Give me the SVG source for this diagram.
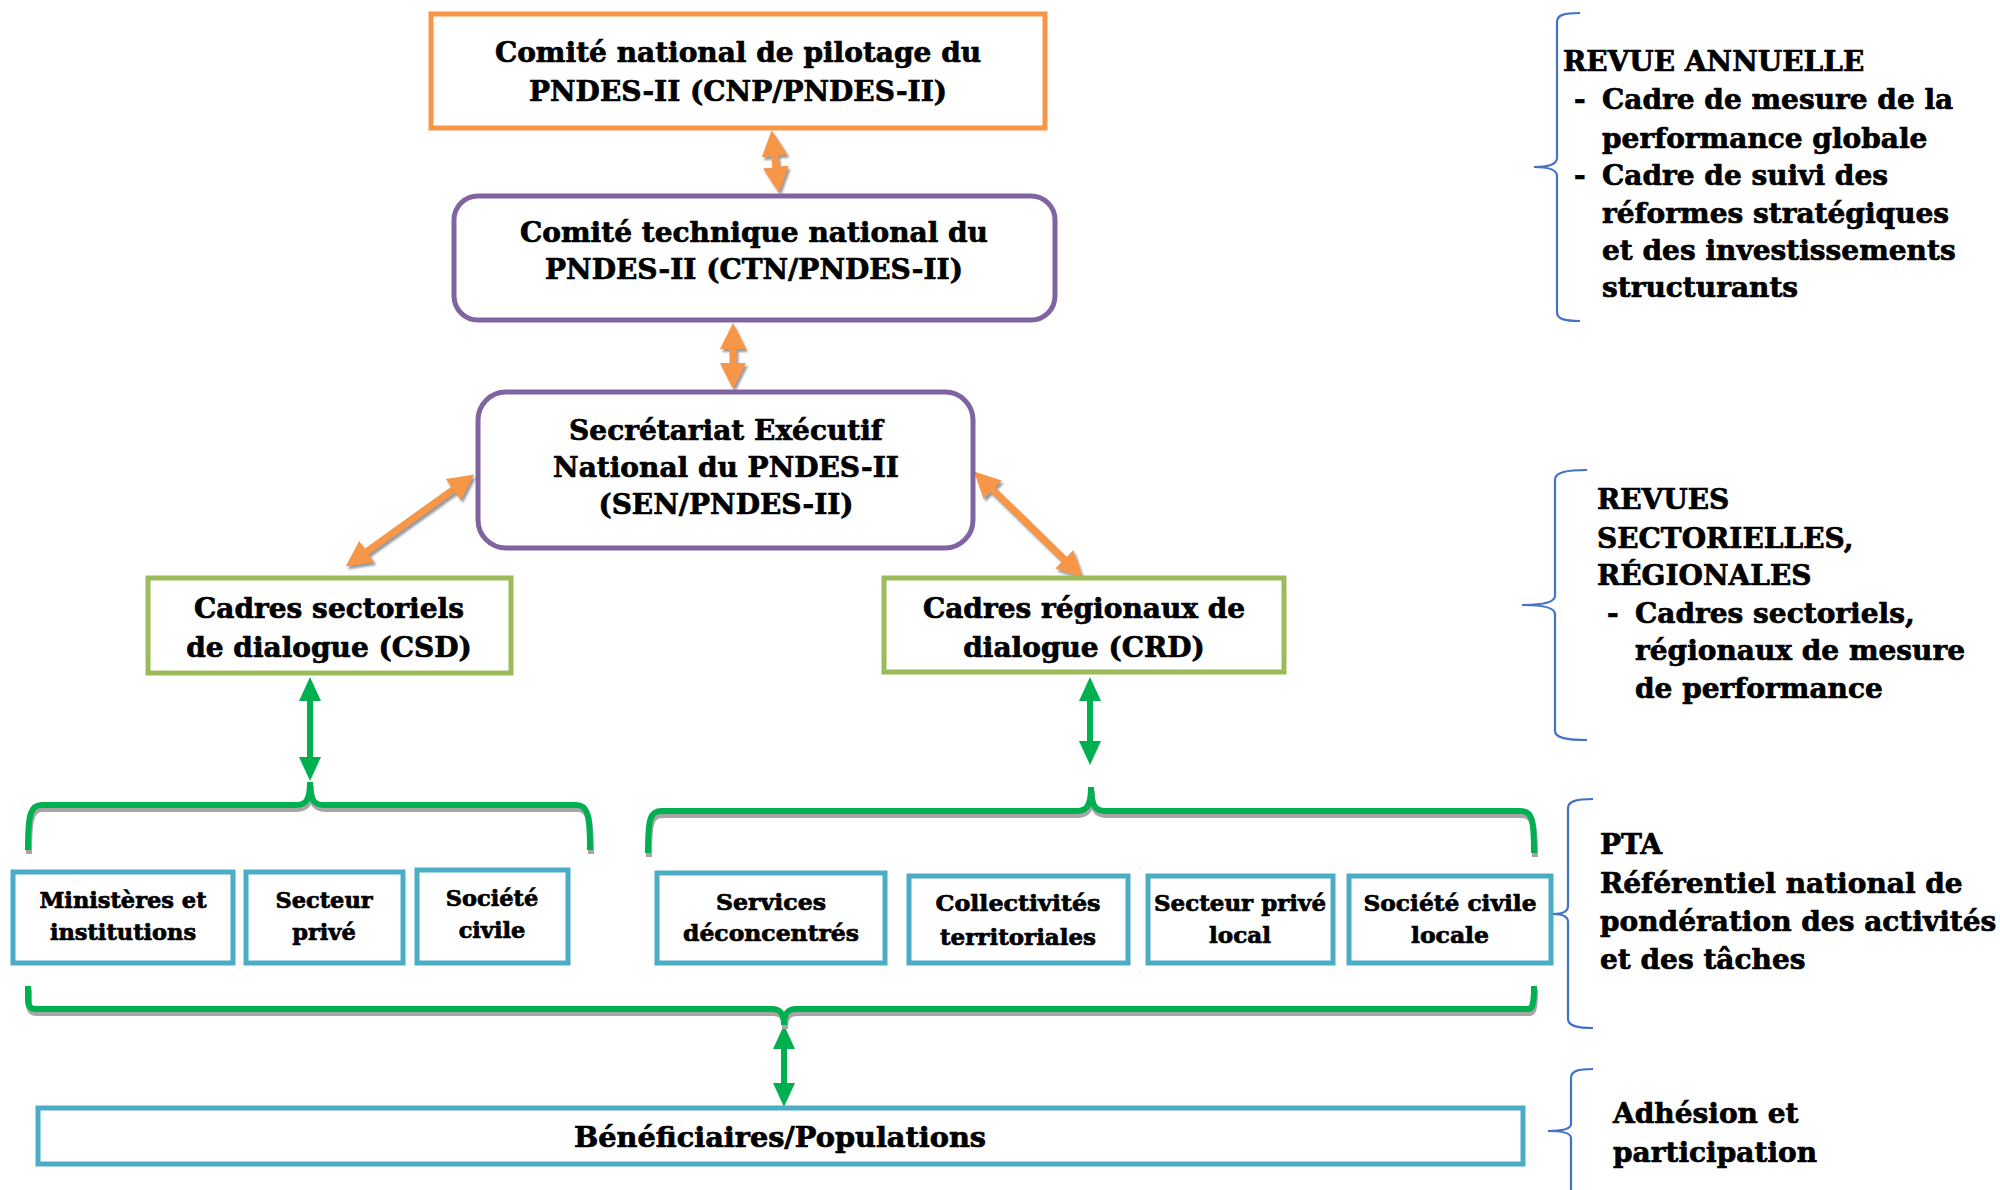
<svg xmlns="http://www.w3.org/2000/svg" width="2000" height="1190" viewBox="0 0 2000 1190">
<style>
.t{font-family:"DejaVu Serif","Liberation Serif",serif;font-weight:bold;fill:#000;stroke:#000;stroke-width:0.7}
.c{text-anchor:middle}
.m{font-size:28px}
.s{font-size:22.5px}
.s2{font-size:23px}
.r{font-size:28px}
.box{fill:#fff}
.or{stroke:#F79646;stroke-width:5}
.pu{stroke:#8064A2;stroke-width:5}
.gr{stroke:#9BBB59;stroke-width:5}
.bl{stroke:#4BACC6;stroke-width:5}
.oa{stroke:#F79646;stroke-width:7;fill:none}
.ga{stroke:#00B050;stroke-width:6;fill:none}
.br{stroke:#00B050;stroke-width:6;fill:none}
.brs{stroke:#A6A6A6;stroke-width:6;fill:none}
.cb{stroke:#4472C4;stroke-width:2.2;fill:none}
</style>
<defs>
<marker id="ho" viewBox="0 0 26 26" refX="1" refY="13" markerWidth="26" markerHeight="26" markerUnits="userSpaceOnUse" orient="auto-start-reverse"><path d="M0,0 L26,13 L0,26 z" fill="#F79646"/></marker>
<marker id="hg" viewBox="0 0 24 22" refX="1" refY="11" markerWidth="24" markerHeight="22" markerUnits="userSpaceOnUse" orient="auto-start-reverse"><path d="M0,0 L24,11 L0,22 z" fill="#00B050"/></marker>
<filter id="sh" x="-20%" y="-20%" width="140%" height="140%"><feDropShadow dx="2" dy="3" stdDeviation="0.8" flood-color="#808080" flood-opacity="0.8"/></filter>
</defs>

<g id="connectors">
<g filter="url(#sh)">
<line class="oa" x1="774.5" y1="155" x2="776" y2="168" marker-start="url(#ho)" marker-end="url(#ho)"/>
<line class="oa" x1="733" y1="348" x2="733" y2="364" marker-start="url(#ho)" marker-end="url(#ho)"/>
<line class="oa" x1="454" y1="489" x2="366" y2="552" marker-start="url(#ho)" marker-end="url(#ho)"/>
<line class="oa" x1="992" y1="489" x2="1065" y2="560" marker-start="url(#ho)" marker-end="url(#ho)"/>
</g>
<line class="ga" x1="310" y1="700" x2="310" y2="758" marker-start="url(#hg)" marker-end="url(#hg)"/>
<line class="ga" x1="1090" y1="700" x2="1090" y2="742" marker-start="url(#hg)" marker-end="url(#hg)"/>
<line class="ga" x1="784" y1="1048" x2="784" y2="1084" marker-start="url(#hg)" marker-end="url(#hg)"/>
<g transform="translate(1,4)">
<path class="brs" d="M28,850 C28,815 30,805 42,805 L296,805 C306,805 310,800 310,782 C310,800 314,805 324,805 L576,805 C588,805 590,815 590,850"/>
<path class="brs" d="M648,853 C648,818 650,811 662,811 L1077,811 C1087,811 1091,805 1091,787 C1091,805 1095,811 1105,811 L1520,811 C1532,811 1534,818 1534,853"/>
<path class="brs" d="M28,986 L28,1000 C28,1006 30,1009 36,1009 L772,1009 C780,1009 784,1013 784,1025 C784,1013 788,1009 796,1009 L1528,1009 C1532,1009 1534,1006 1534,986"/>
</g>
<path class="br" d="M28,850 C28,815 30,805 42,805 L296,805 C306,805 310,800 310,782 C310,800 314,805 324,805 L576,805 C588,805 590,815 590,850"/>
<path class="br" d="M648,853 C648,818 650,811 662,811 L1077,811 C1087,811 1091,805 1091,787 C1091,805 1095,811 1105,811 L1520,811 C1532,811 1534,818 1534,853"/>
<path class="br" d="M28,986 L28,1000 C28,1006 30,1009 36,1009 L772,1009 C780,1009 784,1013 784,1025 C784,1013 788,1009 796,1009 L1528,1009 C1532,1009 1534,1006 1534,986"/>
</g>

<g id="cnp">
<rect class="box or" x="431" y="14" width="614" height="114"/>
<text class="t c m" x="738" y="62">Comité national de pilotage du</text>
<text class="t c m" x="738" y="101">PNDES-II (CNP/PNDES-II)</text>
</g>
<g id="ctn">
<rect class="box pu" x="454" y="196" width="601" height="124" rx="24"/>
<text class="t c m" x="754" y="242">Comité technique national du</text>
<text class="t c m" x="754" y="279">PNDES-II (CTN/PNDES-II)</text>
</g>
<g id="sen">
<rect class="box pu" x="478" y="392" width="495" height="156" rx="28"/>
<text class="t c m" x="726" y="440">Secrétariat Exécutif</text>
<text class="t c m" x="726" y="477">National du PNDES-II</text>
<text class="t c m" x="726" y="514">(SEN/PNDES-II)</text>
</g>
<g id="csd">
<rect class="box gr" x="148" y="578" width="363" height="95"/>
<text class="t c m" x="329" y="618">Cadres sectoriels</text>
<text class="t c m" x="329" y="657">de dialogue (CSD)</text>
</g>
<g id="crd">
<rect class="box gr" x="884" y="578" width="400" height="94"/>
<text class="t c m" x="1084" y="618">Cadres régionaux de</text>
<text class="t c m" x="1084" y="657">dialogue (CRD)</text>
</g>

<g id="ministeres">
<rect class="box bl" x="13" y="872" width="220" height="91"/>
<text class="t c s" x="123" y="908">Ministères et</text>
<text class="t c s" x="123" y="940">institutions</text>
</g>
<g id="secteur-prive">
<rect class="box bl" x="246" y="872" width="157" height="91"/>
<text class="t c s" x="324" y="908">Secteur</text>
<text class="t c s" x="324" y="940">privé</text>
</g>
<g id="societe-civile">
<rect class="box bl" x="417" y="870" width="151" height="93"/>
<text class="t c s" x="492" y="906">Société</text>
<text class="t c s" x="492" y="938">civile</text>
</g>
<g id="services">
<rect class="box bl" x="657" y="873" width="228" height="90"/>
<text class="t c s2" x="771" y="910" textLength="110" lengthAdjust="spacingAndGlyphs">Services</text>
<text class="t c s2" x="771" y="941" textLength="176" lengthAdjust="spacingAndGlyphs">déconcentrés</text>
</g>
<g id="collectivites">
<rect class="box bl" x="909" y="876" width="219" height="87"/>
<text class="t c s2" x="1018" y="911" textLength="165" lengthAdjust="spacingAndGlyphs">Collectivités</text>
<text class="t c s2" x="1018" y="945" textLength="156" lengthAdjust="spacingAndGlyphs">territoriales</text>
</g>
<g id="secteur-prive-local">
<rect class="box bl" x="1148" y="876" width="185" height="87"/>
<text class="t c s2" x="1240" y="911" textLength="172" lengthAdjust="spacingAndGlyphs">Secteur privé</text>
<text class="t c s2" x="1240" y="943" textLength="62" lengthAdjust="spacingAndGlyphs">local</text>
</g>
<g id="societe-civile-locale">
<rect class="box bl" x="1349" y="876" width="202" height="87"/>
<text class="t c s2" x="1450" y="911" textLength="173" lengthAdjust="spacingAndGlyphs">Société civile</text>
<text class="t c s2" x="1450" y="943" textLength="78" lengthAdjust="spacingAndGlyphs">locale</text>
</g>
<g id="beneficiaires">
<rect class="box bl" x="38" y="1108" width="1485" height="56"/>
<text class="t c" style="font-size:27px" x="780" y="1147" textLength="412" lengthAdjust="spacingAndGlyphs">Bénéficiaires/Populations</text>
</g>

<g id="revue-annuelle">
<path class="cb" d="M1580,13 C1564,13 1557,15 1557,22 L1557,158 C1557,164 1550,167 1534,167 C1550,167 1557,170 1557,176 L1557,312 C1557,319 1564,321 1580,321"/>
<text class="t r" x="1563" y="71">REVUE ANNUELLE</text>
<text class="t r" x="1574" y="109">-</text>
<text class="t r" x="1602" y="109">Cadre de mesure de la</text>
<text class="t r" x="1602" y="148">performance globale</text>
<text class="t r" x="1574" y="185">-</text>
<text class="t r" x="1602" y="185">Cadre de suivi des</text>
<text class="t r" x="1602" y="223">réformes stratégiques</text>
<text class="t r" x="1602" y="260">et des investissements</text>
<text class="t r" x="1602" y="297">structurants</text>
</g>
<g id="revues-sectorielles">
<path class="cb" d="M1587,470 C1567,470 1555,472 1555,480 L1555,596 C1555,602 1545,605 1522,605 C1545,605 1555,608 1555,614 L1555,731 C1555,738 1567,740 1587,740"/>
<text class="t r" x="1597" y="509">REVUES</text>
<text class="t r" x="1597" y="548">SECTORIELLES,</text>
<text class="t r" x="1597" y="585">RÉGIONALES</text>
<text class="t r" x="1607" y="623">-</text>
<text class="t r" x="1635" y="623">Cadres sectoriels,</text>
<text class="t r" x="1635" y="660">régionaux de mesure</text>
<text class="t r" x="1635" y="698">de performance</text>
</g>
<g id="pta">
<path class="cb" d="M1593,799 C1577,799 1568,801 1568,808 L1568,906 C1568,911 1563,914 1553,914 C1563,914 1568,917 1568,922 L1568,1019 C1568,1026 1577,1028 1593,1028"/>
<text class="t r" x="1600" y="854">PTA</text>
<text class="t r" x="1600" y="893">Référentiel national de</text>
<text class="t r" x="1600" y="931">pondération des activités</text>
<text class="t r" x="1600" y="969">et des tâches</text>
</g>
<g id="adhesion">
<path class="cb" d="M1593,1069 C1578,1069 1571,1071 1571,1078 L1571,1124 C1571,1128 1565,1131 1548,1131 C1565,1131 1571,1134 1571,1138 L1571,1195"/>
<text class="t r" x="1613" y="1123">Adhésion et</text>
<text class="t r" x="1613" y="1162">participation</text>
</g>
</svg>
